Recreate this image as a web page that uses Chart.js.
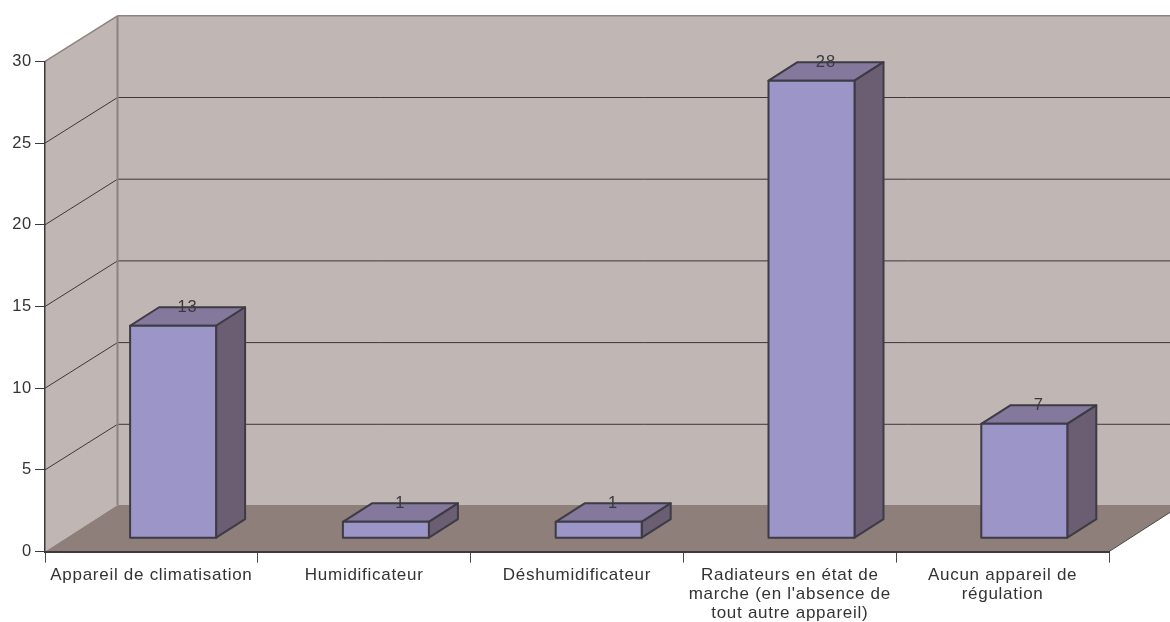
<!DOCTYPE html>
<html>
<head>
<meta charset="utf-8">
<style>html,body{margin:0;padding:0;background:#fff}#w{width:1170px;height:622px}canvas{display:block}</style>
<script src="https://cdn.jsdelivr.net/npm/chart.js@4"></script>
</head>
<body>
<div id="w"><canvas id="c" width="1170" height="622"></canvas></div>
<script>
const categories = [
  "Appareil de climatisation",
  "Humidificateur",
  "Déshumidificateur",
  ["Radiateurs en état de", "marche (en l'absence de", "tout autre appareil)"],
  ["Aucun appareil de", "régulation"]
];
const values = [13, 1, 1, 28, 7];
const yMax = 30;
const yStep = 5;

const DEPTH_X = 72.5, DEPTH_Y = -45.6; // wall depth
const FLOOR_Y = -46.6;                 // back edge of the floor
const SHIFT_X = 21.7, SHIFT_Y = -13.4; // bar position inside the depth
const BAR_X = 29, BAR_Y = -18.5;       // bar depth
const FONT = '"Liberation Sans", Arial, sans-serif';
const INK = '#3d3b44';

function poly(ctx, pts, fill, stroke, lw) {
  ctx.beginPath();
  pts.forEach((p, i) => i ? ctx.lineTo(p[0], p[1]) : ctx.moveTo(p[0], p[1]));
  ctx.closePath();
  if (fill) { ctx.fillStyle = fill; ctx.fill(); }
  if (stroke) { ctx.strokeStyle = stroke; ctx.lineWidth = lw || 1; ctx.lineJoin = 'round'; ctx.stroke(); }
}
function seg(ctx, x1, y1, x2, y2, color, lw) {
  ctx.beginPath(); ctx.moveTo(x1, y1); ctx.lineTo(x2, y2);
  ctx.strokeStyle = color; ctx.lineWidth = lw; ctx.stroke();
}

const box3d = {
  id: 'box3d',
  beforeDraw(chart) {
    const { ctx, chartArea: a, scales: { y } } = chart;
    const L = a.left, R = a.right, T = a.top, B = a.bottom;
    const bx = L + DEPTH_X, tx = R + DEPTH_X, by = B + FLOOR_Y, ty = T + DEPTH_Y;
    ctx.save();
    poly(ctx, [[L, T], [bx, ty], [tx, ty], [tx, by], [bx, by], [L, B]], '#c0b6b3');
    poly(ctx, [[L, B], [bx, by], [tx, by], [R, B]], '#8e7f7a');
    y.ticks.forEach(t => {
      if (t.value === 0 || t.value === yMax) return;
      const p = y.getPixelForValue(t.value);
      seg(ctx, L, p, bx, p + DEPTH_Y, '#3c383c', 1);
      seg(ctx, bx, p + DEPTH_Y, tx, p + DEPTH_Y, '#3c383c', 1);
    });
    seg(ctx, bx, ty, bx, by, '#8e827e', 2);
    seg(ctx, L, T, bx, ty, '#8e827e', 1.5);
    seg(ctx, bx, ty, tx, ty, '#8e827e', 1.5);
    seg(ctx, R, B, tx, by, '#4a4648', 1);
    ctx.restore();
    ctx.letterSpacing = '0.72px';   // the reference text runs wider than the font
  },
  beforeDatasetDraw(chart) {
    const { ctx } = chart;
    const meta = chart.getDatasetMeta(0);
    ctx.save();
    ctx.translate(SHIFT_X, SHIFT_Y);
    meta.data.forEach(b => {
      const w = b.width / 2;
      const l = b.x - w, r = b.x + w, t = b.y, u = b.base;
      poly(ctx, [[l, t], [l + BAR_X, t + BAR_Y], [r + BAR_X, t + BAR_Y], [r, t]], '#84799c', INK, 2);
      poly(ctx, [[r, t], [r + BAR_X, t + BAR_Y], [r + BAR_X, u + BAR_Y], [r, u]], '#6b5e73', INK, 2);
    });
  },
  afterDatasetDraw(chart) {
    const { ctx } = chart;
    const meta = chart.getDatasetMeta(0);
    meta.data.forEach(b => {
      const w = b.width / 2;
      poly(ctx, [[b.x - w, b.y], [b.x + w, b.y], [b.x + w, b.base], [b.x - w, b.base]], null, INK, 2);
    });
    ctx.restore();
    ctx.save();
    ctx.font = '16.5px ' + FONT;
    ctx.letterSpacing = '1px';
    ctx.fillStyle = '#3a3a3e';
    ctx.textAlign = 'center';
    ctx.textBaseline = 'middle';
    meta.data.forEach((b, i) => {
      ctx.fillText(String(values[i]), b.x + SHIFT_X + BAR_X / 2, b.y + SHIFT_Y + BAR_Y + 0.5);
    });
    ctx.restore();
  }
};

new Chart(document.getElementById('c'), {
  type: 'bar',
  data: {
    labels: categories,
    datasets: [{
      data: values,
      backgroundColor: '#9c95c7',
      borderWidth: 0,
      clip: false,
      categoryPercentage: 1,
      barPercentage: 86 / 212.8
    }]
  },
  plugins: [box3d],
  options: {
    responsive: false,
    animation: false,
    events: [],
    layout: { padding: { left: 0, top: 61.4, right: 61, bottom: 0 } },
    plugins: { legend: { display: false }, title: { display: false }, tooltip: { enabled: false } },
    scales: {
      x: {
        afterFit(s) { s.height = 70.4; },
        border: { color: '#3c383c', width: 2 },
        grid: { drawOnChartArea: false, drawTicks: true, tickLength: 11, color: '#4a4648' },
        ticks: { autoSkip: false, maxRotation: 0, minRotation: 0, padding: 3, color: '#333333', font: { family: FONT, size: 17, lineHeight: 1.13 } }
      },
      y: {
        min: 0, max: yMax,
        afterFit(s) { s.width = 45; },
        border: { color: '#3c383c', width: 1.5 },
        grid: { drawOnChartArea: false, drawTicks: true, tickLength: 10, color: '#3c383c' },
        ticks: { stepSize: yStep, padding: 3, color: '#333333', font: { family: FONT, size: 16.5 } }
      }
    }
  }
});
</script>
</body>
</html>
